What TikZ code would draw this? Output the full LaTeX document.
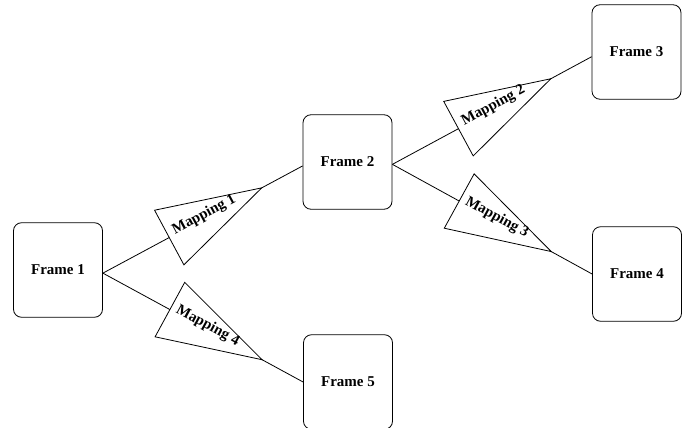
\documentclass[tikz,border=0pt]{standalone}
\usepackage{fontspec}
\setmainfont{Liberation Serif}
\usepackage{tikz}
\usetikzlibrary{shapes.geometric}

\tikzset{
  frame/.style={draw, rounded corners=8pt, minimum width=89pt, minimum height=94.5pt,
    line width=0.8pt, font=\fontsize{15}{18}\selectfont\bfseries},
  mapping/.style={draw, fill=white, isosceles triangle, isosceles triangle stretches,
    inner sep=0pt, minimum width=62pt, minimum height=105pt, line width=0.8pt,
    sloped, anchor=apex},
  maptext/.style={sloped, anchor=base, inner sep=0pt, font=\fontsize{15}{18}\selectfont\bfseries},
}

\begin{document}
\begin{tikzpicture}[x=1pt, y=-1pt, line width=0.8pt]
    \useasboundingbox (0,0) rectangle (688,428);
    \node[frame] (f1) at (58, 270) {Frame 1};
    \node[frame] (f2) at (347.5, 162) {Frame 2};
    \node[frame] (f3) at (636.5, 52) {Frame 3};
    \node[frame] (f4) at (637, 274) {Frame 4};
    \node[frame] (f5) at (348, 382) {Frame 5};

    \draw (f1.-4) -- (f2.185) node[mapping, pos=0.8] (m1) {} node[maptext, pos=0.515] (t1) {Mapping 1};
    \draw (f2.-3) -- (f3.186) node[mapping, pos=0.8] (m2) {} node[maptext, pos=0.515] (t2) {Mapping 2};
    \draw (f2.-3) -- (f4.west) node[mapping, pos=0.8] (m3) {} node[maptext, pos=0.515] (t3) {Mapping 3};
    \draw (f1.-4) -- (f5.west) node[mapping, pos=0.8] (m4) {} node[maptext, pos=0.515] (t4) {Mapping 4};
\end{tikzpicture}
\end{document}
